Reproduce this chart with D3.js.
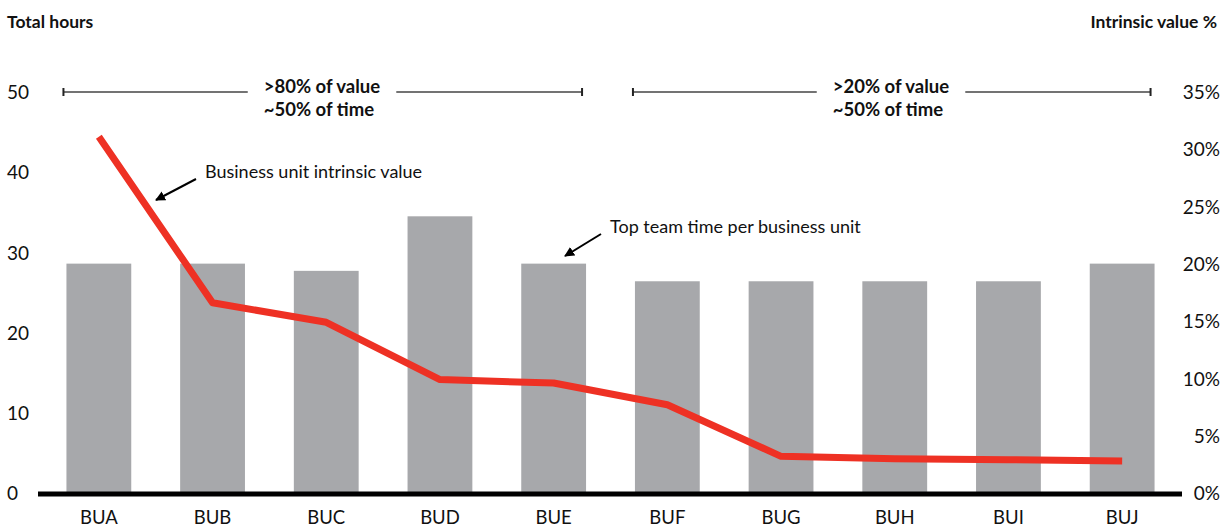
<!DOCTYPE html>
<meta charset="utf-8">
<style>
  body { margin: 0; background: #fff; }
  svg text { font-family: "Century Gothic", Futura, Lato, "DejaVu Sans", sans-serif; fill: #111; }
  .tick text { font-size: 19px; }
  .bold { font-weight: bold; font-size: 17.5px; }
  .note { font-size: 18px; }
</style>
<body>
<svg width="1231" height="529"></svg>
<script src="https://d3js.org/d3.v7.min.js"></script>
<script>

// chart data
var units = ["BUA", "BUB", "BUC", "BUD", "BUE", "BUF", "BUG", "BUH", "BUI", "BUJ"];
var hours = [28.6, 28.6, 27.7, 34.5, 28.6, 26.4, 26.4, 26.4, 26.4, 28.6];
var valuePct = [31.1, 16.6, 14.9, 9.9, 9.6, 7.7, 3.2, 3.0, 2.9, 2.8];
var hourTicks = [0, 10, 20, 30, 40, 50];
var pctTicks = [0, 5, 10, 15, 20, 25, 30, 35];

const svg = d3.select("svg");

// scales
var x = d3.scaleBand().domain(units).range([42, 1179]).paddingInner(0.43).paddingOuter(0.215);
var yL = d3.scaleLinear().domain([0, 50]).range([493, 92]);
var yR = d3.scaleLinear().domain([0, 35]).range([493, 92]);

// titles
svg.append("text").attr("class", "bold").attr("x", 7).attr("y", 28).text("Total hours");
svg.append("text").attr("class", "bold").attr("x", 1217).attr("y", 28)
  .attr("text-anchor", "end").text("Intrinsic value %");

// left axis
var gl = svg.append("g").attr("transform", "translate(7,0)")
  .call(d3.axisRight(yL).tickValues(hourTicks).tickSize(0).tickPadding(0));
gl.select(".domain").remove();
gl.selectAll("text").attr("font-family", null).attr("font-size", null).attr("dy", "0.35em");

// right axis
var gr = svg.append("g").attr("transform", "translate(1220,0)")
  .call(d3.axisLeft(yR).tickValues(pctTicks).tickSize(0).tickPadding(0).tickFormat(d => d + "%"));
gr.select(".domain").remove();
gr.selectAll("text").attr("font-family", null).attr("font-size", null).attr("dy", "0.35em");

// bars
svg.append("g").selectAll("rect")
  .data(units)
  .join("rect")
  .attr("x", d => x(d))
  .attr("width", x.bandwidth())
  .attr("y", (d, i) => yL(hours[i]))
  .attr("height", (d, i) => yL(0) - yL(hours[i]))
  .attr("fill", "#a7a8ab");

// baseline
svg.append("line")
  .attr("x1", 38).attr("x2", 1182)
  .attr("y1", yL(0) + 1).attr("y2", yL(0) + 1)
  .attr("stroke", "#000").attr("stroke-width", 5);

// category labels
svg.append("g").selectAll("text")
  .data(units)
  .join("text")
  .attr("x", d => x(d) + x.bandwidth() / 2)
  .attr("y", 524)
  .attr("text-anchor", "middle")
  .style("font-size", "18.5px")
  .text(d => d);

// value line
var line = d3.line()
  .x((d, i) => x(units[i]) + x.bandwidth() / 2)
  .y(d => yR(d));

svg.append("path")
  .datum(valuePct)
  .attr("d", line)
  .attr("fill", "none")
  .attr("stroke", "#ee3124")
  .attr("stroke-width", 7)
  .attr("stroke-linejoin", "round");

// brackets
function bracket(x1, x2, lines) {
  var yb = yL(50);
  var g = svg.append("g");
  g.append("line").attr("x1", x1).attr("x2", x2).attr("y1", yb).attr("y2", yb)
    .attr("stroke", "#444").attr("stroke-width", 1.6);
  [x1, x2].forEach(v => g.append("line").attr("x1", v).attr("x2", v)
    .attr("y1", yb - 4).attr("y2", yb + 4).attr("stroke", "#222").attr("stroke-width", 2));
  var cx = (x1 + x2) / 2;
  var bg = g.append("rect").attr("fill", "#fff");
  var t = g.append("text").attr("class", "bold").style("font-size", "18.5px");
  lines.forEach((s, i) => t.append("tspan").attr("x", cx - 59).attr("y", yb + 1 + i * 23).text(s));
  var bb = t.node().getBBox();
  bg.attr("x", bb.x - 16).attr("y", yb - 3).attr("width", bb.width + 32).attr("height", 6);
}
bracket(x("BUA") - 3, x("BUE") + x.bandwidth() - 4, [">80% of value", "~50% of time"]);
bracket(x("BUF") - 2, x("BUJ") + x.bandwidth() - 4, [">20% of value", "~50% of time"]);

// arrows + notes
svg.append("defs").append("marker")
  .attr("id", "arr").attr("viewBox", "0 0 10 10").attr("refX", 9).attr("refY", 5)
  .attr("markerWidth", 5).attr("markerHeight", 5).attr("orient", "auto")
  .append("path").attr("d", "M0,0L10,5L0,10z").attr("fill", "#000");

function note(tx, ty, ax, ay, label) {
  svg.append("line").attr("x1", tx - 9).attr("y1", ty + 7).attr("x2", ax).attr("y2", ay)
    .attr("stroke", "#000").attr("stroke-width", 2).attr("marker-end", "url(#arr)");
  svg.append("text").attr("class", "note").attr("x", tx).attr("y", ty + 6).text(label);
}
note(205, 172, 156, 200, "Business unit intrinsic value");
note(610, 227, 565, 256, "Top team time per business unit");

</script>
</body>
